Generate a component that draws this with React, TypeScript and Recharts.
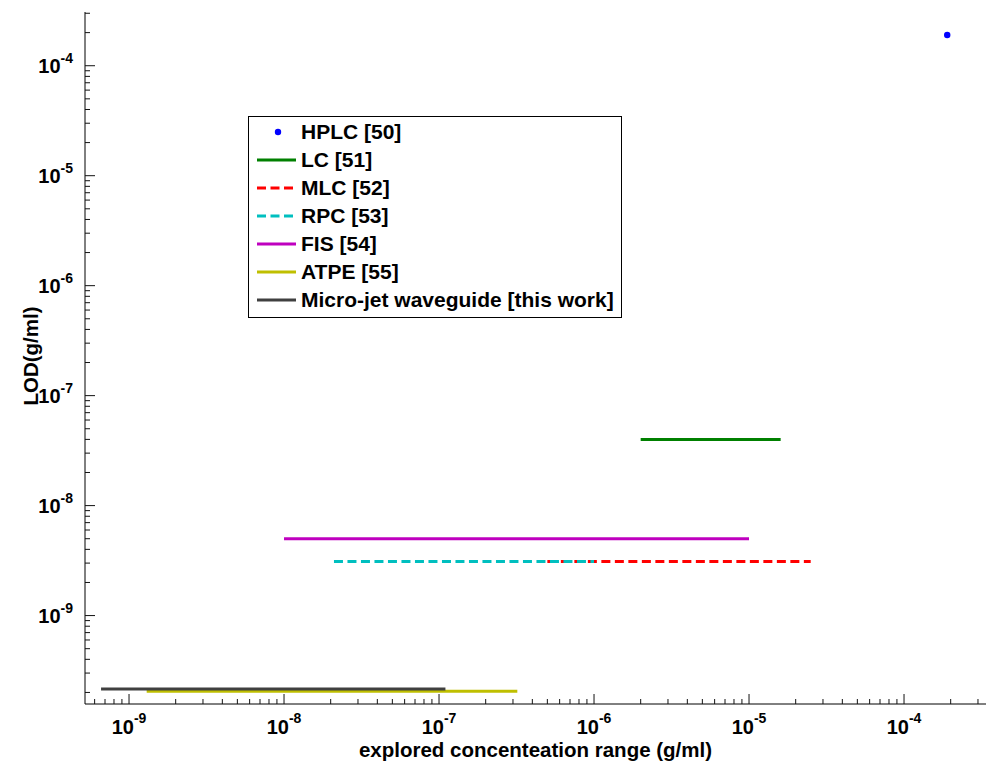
import React from 'react';
import { ComposedChart, Line, Scatter, XAxis, YAxis, Legend } from 'recharts';

// ---- data (g/ml) ----
const X_DOMAIN: [number, number] = [5.2e-10, 3.38e-4];
const Y_DOMAIN: [number, number] = [1.57e-10, 3.08e-4];
const DECADES = [1e-10, 1e-9, 1e-8, 1e-7, 1e-6, 1e-5, 1e-4];
const MULTIPLIERS = [1, 2, 3, 4, 5, 6, 7, 8, 9];

const hplcData = [{ x: 1.9e-4, y: 1.9e-4 }];
const lcData = [{ x: 2.0e-6, y: 4.0e-8 }, { x: 1.6e-5, y: 4.0e-8 }];
const mlcData = [{ x: 5.0e-7, y: 3.1e-9 }, { x: 2.5e-5, y: 3.1e-9 }];
const rpcData = [{ x: 2.1e-8, y: 3.1e-9 }, { x: 1.0e-6, y: 3.1e-9 }];
const fisData = [{ x: 1.0e-8, y: 5.0e-9 }, { x: 1.0e-5, y: 5.0e-9 }];
const atpeData = [{ x: 1.3e-9, y: 2.05e-10 }, { x: 3.2e-7, y: 2.05e-10 }];
const microJetData = [{ x: 6.6e-10, y: 2.15e-10 }, { x: 1.1e-7, y: 2.15e-10 }];

const SERIES = [
  { name: 'HPLC [50]', color: '#0000ff', kind: 'dot', dash: '' },
  { name: 'LC [51]', color: '#008000', kind: 'line', dash: '' },
  { name: 'MLC [52]', color: '#ff0000', kind: 'line', dash: '9 4.5' },
  { name: 'RPC [53]', color: '#00bfbf', kind: 'line', dash: '9 4.5' },
  { name: 'FIS [54]', color: '#bf00bf', kind: 'line', dash: '' },
  { name: 'ATPE [55]', color: '#bfbf00', kind: 'line', dash: '' },
  { name: 'Micro-jet waveguide [this work]', color: '#404040', kind: 'line', dash: '' },
];

const makeTicks = (dom: [number, number]) => {
  const out: number[] = [];
  DECADES.forEach((d) =>
    MULTIPLIERS.forEach((m) => {
      const v = m * d;
      if (v >= dom[0] && v <= dom[1]) out.push(v);
    })
  );
  return out;
};
const X_TICKS = makeTicks(X_DOMAIN);
const Y_TICKS = makeTicks(Y_DOMAIN);

const FONT = '"Liberation Sans", Arial, Helvetica, sans-serif';

const isMajor = (v: number) => {
  const l = Math.log10(v);
  return Math.abs(l - Math.round(l)) < 1e-6;
};
const expOf = (v: number) => Math.round(Math.log10(v));

const XTick = (props: any) => {
  const { x, y, payload, side } = props;
  const v = payload.value;
  const major = isMajor(v);
  const len = major ? 10 : 5;
  const dir = side === 'bottom' ? -1 : 1;
  return (
    <g>
      <line x1={x} x2={x} y1={y} y2={y + dir * len} stroke="#111" strokeWidth={1} />
      {side === 'bottom' && major && (
        <text x={x} y={y + 30} textAnchor="middle" fontFamily={FONT} fontWeight="bold" fontSize={20} fill="#000">
          <tspan>10</tspan>
          <tspan dy={-11} fontSize={14}>{String(expOf(v))}</tspan>
        </text>
      )}
    </g>
  );
};

const YTick = (props: any) => {
  const { x, y, payload, side } = props;
  const v = payload.value;
  const major = isMajor(v);
  const len = major ? 10 : 5;
  const dir = side === 'left' ? 1 : -1;
  return (
    <g>
      <line x1={x} x2={x + dir * len} y1={y} y2={y} stroke="#111" strokeWidth={1} />
      {side === 'left' && major && (
        <text x={x - 12} y={y + 7} textAnchor="end" fontFamily={FONT} fontWeight="bold" fontSize={20} fill="#000">
          <tspan>10</tspan>
          <tspan dy={-10} fontSize={14}>{String(expOf(v))}</tspan>
        </text>
      )}
    </g>
  );
};

const LegendBox = () => (
  <div
    style={{
      width: 374,
      height: 202,
      boxSizing: 'border-box',
      border: '1px solid #000',
      background: '#fff',
      paddingTop: 1,
      fontFamily: FONT,
      fontWeight: 'bold',
      fontSize: 21,
      color: '#000',
    }}
  >
    {SERIES.map((s) => (
      <div key={s.name} style={{ height: 28, display: 'flex', alignItems: 'center', whiteSpace: 'nowrap' }}>
        <svg width={52} height={28} style={{ flex: 'none' }}>
          {s.kind === 'dot' ? (
            <circle cx={29} cy={14} r={3.2} fill={s.color} />
          ) : (
            <line x1={8} x2={47} y1={14} y2={14} stroke={s.color} strokeWidth={3} strokeDasharray={s.dash || undefined} />
          )}
        </svg>
        <span style={{ lineHeight: '28px' }}>{s.name}</span>
      </div>
    ))}
  </div>
);

const lineSeries = [
  { data: lcData, s: SERIES[1] },
  { data: mlcData, s: SERIES[2] },
  { data: rpcData, s: SERIES[3] },
  { data: fisData, s: SERIES[4] },
  { data: atpeData, s: SERIES[5] },
  { data: microJetData, s: SERIES[6] },
];

export default function App() {
  return (
    <div style={{ position: 'absolute', left: 0, top: 0, width: 988, height: 765, background: '#fff' }}>
      <ComposedChart width={988} height={765} margin={{ top: 12, right: 2, bottom: 0, left: 0 }}>
        <XAxis
          xAxisId="b"
          dataKey="x"
          type="number"
          scale="log"
          domain={X_DOMAIN}
          allowDataOverflow
          ticks={X_TICKS}
          interval={0}
          tickSize={0}
          tickMargin={0}
          height={61}
          axisLine={{ stroke: '#000' }}
          tickLine={false}
          tick={(p: any) => <XTick {...p} side="bottom" />}
          label={(p: any) => {
            const vb = p.viewBox || { x: 85, y: 704, width: 901 };
            return (
              <text x={vb.x + vb.width / 2} y={vb.y + 53} textAnchor="middle" fontFamily={FONT} fontWeight="bold" fontSize={20.5} fill="#000">
                explored concenteation range (g/ml)
              </text>
            );
          }}
        />
        <XAxis
          xAxisId="t"
          orientation="top"
          dataKey="x"
          type="number"
          scale="log"
          domain={X_DOMAIN}
          allowDataOverflow
          ticks={X_TICKS}
          interval={0}
          tickSize={0}
          tickMargin={0}
          height={0}
          axisLine={{ stroke: '#000' }}
          tickLine={false}
          tick={(p: any) => <XTick {...p} side="top" />}
        />
        <YAxis
          yAxisId="l"
          dataKey="y"
          type="number"
          scale="log"
          domain={Y_DOMAIN}
          allowDataOverflow
          ticks={Y_TICKS}
          interval={0}
          tickSize={0}
          tickMargin={0}
          width={85}
          axisLine={{ stroke: '#000' }}
          tickLine={false}
          tick={(p: any) => <YTick {...p} side="left" />}
          label={(p: any) => {
            const vb = p.viewBox || { x: 0, y: 12, height: 692 };
            const cx = vb.x + 38;
            const cy = vb.y + vb.height / 2 - 2;
            return (
              <text x={cx} y={cy} transform={`rotate(-90, ${cx}, ${cy})`} textAnchor="middle" fontFamily={FONT} fontWeight="bold" fontSize={20.5} fill="#000">
                LOD(g/ml)
              </text>
            );
          }}
        />
        <YAxis
          yAxisId="r"
          orientation="right"
          dataKey="y"
          type="number"
          scale="log"
          domain={Y_DOMAIN}
          allowDataOverflow
          ticks={Y_TICKS}
          interval={0}
          tickSize={0}
          tickMargin={0}
          width={0}
          axisLine={{ stroke: '#000' }}
          tickLine={false}
          tick={(p: any) => <YTick {...p} side="right" />}
        />
        {lineSeries.map(({ data, s }) => (
          <Line
            key={s.name}
            xAxisId="b"
            yAxisId="l"
            data={data}
            dataKey="y"
            name={s.name}
            stroke={s.color}
            strokeWidth={3}
            strokeDasharray={s.dash || undefined}
            dot={false}
            activeDot={false}
            isAnimationActive={false}
            strokeLinecap="butt"
          />
        ))}
        <Scatter
          xAxisId="b"
          yAxisId="l"
          data={hplcData}
          dataKey="y"
          name={SERIES[0].name}
          fill={SERIES[0].color}
          isAnimationActive={false}
          shape={(p: any) => <circle cx={p.cx} cy={p.cy} r={3.2} fill={SERIES[0].color} />}
        />
        <Legend
          layout="vertical"
          verticalAlign="middle"
          align="center"
          content={() => <LegendBox />}
          wrapperStyle={{ position: 'absolute', left: 248, top: 116, width: 374, height: 202 }}
        />
      </ComposedChart>
    </div>
  );
}
